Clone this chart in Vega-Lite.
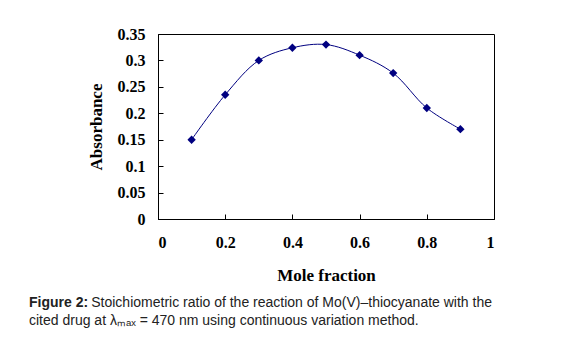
{
  "$schema": "https://vega.github.io/schema/vega-lite/v6.json",
  "width": 336,
  "height": 185,
  "autosize": {"type": "none"},
  "padding": {"left": 158, "top": 34, "right": 94, "bottom": 142},
  "background": "white",
  "data": {"values": [
    {"x": 0.1, "y": 0.150},
    {"x": 0.2, "y": 0.235},
    {"x": 0.3, "y": 0.300},
    {"x": 0.4, "y": 0.324},
    {"x": 0.5, "y": 0.330},
    {"x": 0.6, "y": 0.310},
    {"x": 0.7, "y": 0.276},
    {"x": 0.8, "y": 0.210},
    {"x": 0.9, "y": 0.170}
  ]},
  "title": {
    "text": "Figure 2:",
    "subtitle": ["\u200b\u00a0\u00a0\u00a0\u00a0\u00a0\u00a0\u00a0\u00a0\u00a0\u00a0\u00a0\u00a0\u00a0\u00a0\u00a0\u00a0Stoichiometric ratio of the reaction of Mo(V)–thiocyanate with the", "cited drug at λₘₐₓ = 470 nm using continuous variation method."],
    "orient": "bottom",
    "anchor": "start",
    "frame": "group",
    "dx": -129,
    "offset": 13,
    "font": "Liberation Sans",
    "fontSize": 14,
    "fontWeight": "bold",
    "color": "#222222",
    "subtitleFont": "Liberation Sans",
    "subtitleFontSize": 14,
    "subtitleFontWeight": "normal",
    "subtitleColor": "#222222",
    "subtitleLineHeight": 18,
    "subtitlePadding": -14
  },
  "encoding": {
    "x": {
      "field": "x", "type": "quantitative",
      "scale": {"domain": [0, 1], "nice": false, "zero": false},
      "axis": {"values": [0, 0.2, 0.4, 0.6, 0.8, 1], "format": "~g", "title": "Mole fraction", "labelPadding": 20, "titlePadding": 17}
    },
    "y": {
      "field": "y", "type": "quantitative",
      "scale": {"domain": [0, 0.35], "nice": false},
      "axis": {"values": [0, 0.05, 0.1, 0.15, 0.2, 0.25, 0.3, 0.35], "format": "~g", "title": "Absorbance", "labelPadding": 18, "titlePadding": 12}
    }
  },
  "layer": [
    {"mark": {"type": "line", "interpolate": "catmull-rom", "color": "#000080", "strokeWidth": 1}},
    {"mark": {"type": "point", "shape": "diamond", "filled": true, "color": "#000080", "size": 70, "opacity": 1}}
  ],
  "config": {
    "view": {"stroke": "black", "strokeWidth": 1},
    "axis": {
      "grid": false,
      "domainColor": "black",
      "tickColor": "black",
      "tickSize": -5,
      "labelFont": "Liberation Serif",
      "labelFontWeight": "bold",
      "labelFontSize": 16,
      "labelColor": "black",
      "titleFont": "Liberation Serif",
      "titleFontWeight": "bold",
      "titleFontSize": 17,
      "titleColor": "black"
    }
  }
}
